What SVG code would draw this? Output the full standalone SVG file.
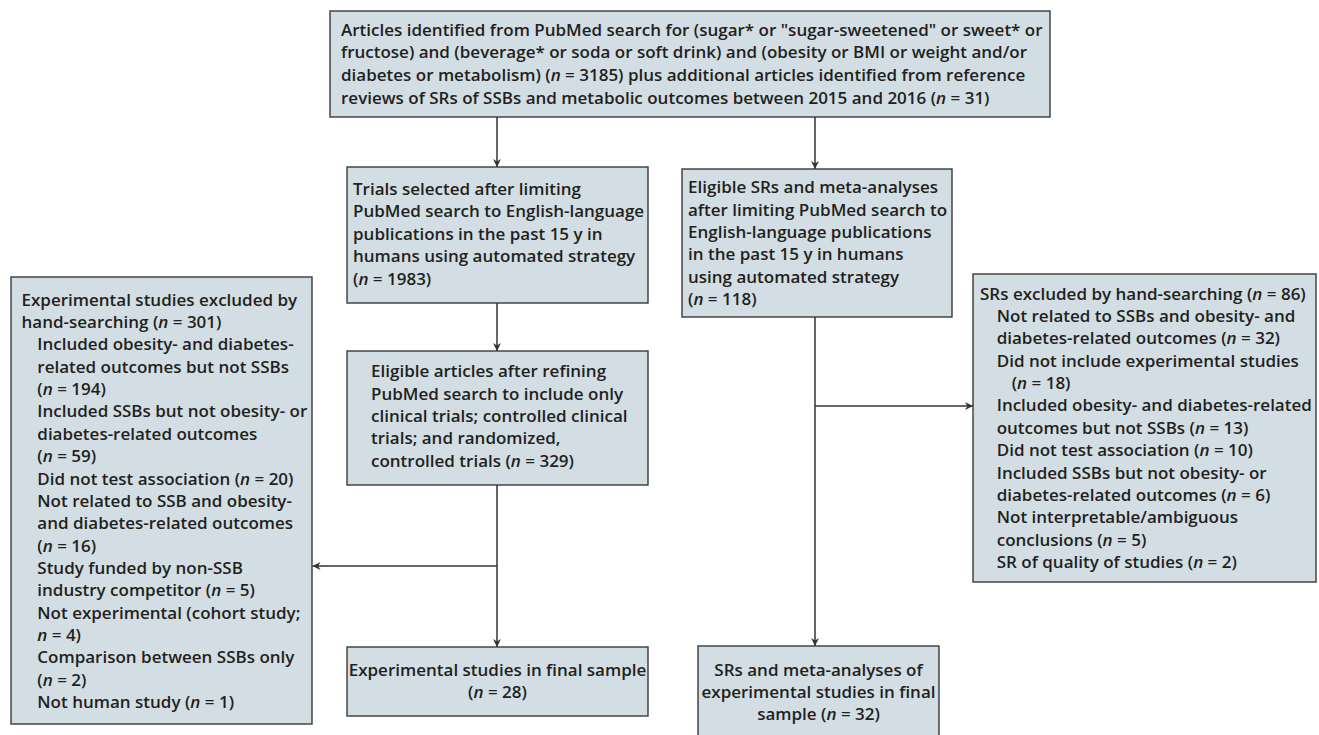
<svg xmlns="http://www.w3.org/2000/svg" width="1319" height="735" viewBox="0 0 1319 735">
<defs>
<style>
.box{fill:#d2dee3;stroke:#3a3a3a;stroke-width:1.4}
.t{font-family:"Open Sans","Noto Sans","Liberation Sans",sans-serif;font-size:17px;font-weight:600;fill:#231f20}
.c{text-anchor:middle}
.i{font-style:italic}
.ln{fill:none;stroke:#333;stroke-width:1.5}
</style>
<marker id="ah" viewBox="0 0 10 10" refX="10" refY="5" markerWidth="8" markerHeight="8" markerUnits="userSpaceOnUse" orient="auto">
<path d="M0,0 L10,5 L0,10 L3,5 z" fill="#333"/>
</marker>
</defs>
<rect width="1319" height="735" fill="#fff"/>

<g id="connectors">
<line class="ln" x1="497" y1="117" x2="497" y2="167" marker-end="url(#ah)"/>
<line class="ln" x1="815" y1="117" x2="815" y2="169" marker-end="url(#ah)"/>
<line class="ln" x1="497" y1="303" x2="497" y2="351" marker-end="url(#ah)"/>
<line class="ln" x1="497" y1="485" x2="497" y2="647" marker-end="url(#ah)"/>
<line class="ln" x1="497" y1="566" x2="312.5" y2="566" marker-end="url(#ah)"/>
<line class="ln" x1="815" y1="317" x2="815" y2="646" marker-end="url(#ah)"/>
<line class="ln" x1="815" y1="406" x2="973" y2="406" marker-end="url(#ah)"/>
</g>

<g id="top">
<rect class="box" x="330" y="11" width="720" height="106"/>
<text class="t" x="341" y="35.5">Articles identified from PubMed search for (sugar* or "sugar-sweetened" or sweet* or</text>
<text class="t" x="341" y="58.2">fructose) and (beverage* or soda or soft drink) and (obesity or BMI or weight and/or</text>
<text class="t" x="341" y="80.9">diabetes or metabolism) (<tspan class="i">n</tspan> = 3185) plus additional articles identified from reference</text>
<text class="t" x="341" y="103.5">reviews of SRs of SSBs and metabolic outcomes between 2015 and 2016 (<tspan class="i">n</tspan> = 31)</text>
</g>

<g id="trials">
<rect class="box" x="347" y="167" width="301" height="136"/>
<text class="t" x="353" y="195">Trials selected after limiting</text>
<text class="t" x="353" y="217.4">PubMed search to English-language</text>
<text class="t" x="353" y="239.7">publications in the past 15 y in</text>
<text class="t" x="353" y="262.1">humans using automated strategy</text>
<text class="t" x="353" y="284.5">(<tspan class="i">n</tspan> = 1983)</text>
</g>

<g id="eligible-articles">
<rect class="box" x="347" y="351" width="301" height="134"/>
<text class="t" x="371" y="377.2">Eligible articles after refining</text>
<text class="t" x="371" y="399.6">PubMed search to include only</text>
<text class="t" x="371" y="422">clinical trials; controlled clinical</text>
<text class="t" x="371" y="444.3">trials; and randomized,</text>
<text class="t" x="371" y="466.7">controlled trials (<tspan class="i">n</tspan> = 329)</text>
</g>

<g id="final-experimental">
<rect class="box" x="347" y="647" width="301" height="69"/>
<text class="t c" x="497.5" y="675.5">Experimental studies in final sample</text>
<text class="t c" x="497.5" y="698">(<tspan class="i">n</tspan> = 28)</text>
</g>

<g id="excluded-experimental">
<rect class="box" x="11" y="277" width="301" height="447"/>
<text class="t" x="21.5" y="305.5">Experimental studies excluded by</text>
<text class="t" x="21.5" y="327.9">hand-searching (<tspan class="i">n</tspan> = 301)</text>
<text class="t" x="37.3" y="350.2">Included obesity- and diabetes-</text>
<text class="t" x="37.3" y="372.6">related outcomes but not SSBs</text>
<text class="t" x="37.3" y="395">(<tspan class="i">n</tspan> = 194)</text>
<text class="t" x="37.3" y="417.4">Included SSBs but not obesity- or</text>
<text class="t" x="37.3" y="439.7">diabetes-related outcomes</text>
<text class="t" x="37.3" y="462.1">(<tspan class="i">n</tspan> = 59)</text>
<text class="t" x="37.3" y="484.5">Did not test association (<tspan class="i">n</tspan> = 20)</text>
<text class="t" x="37.3" y="506.8">Not related to SSB and obesity-</text>
<text class="t" x="37.3" y="529.2">and diabetes-related outcomes</text>
<text class="t" x="37.3" y="551.6">(<tspan class="i">n</tspan> = 16)</text>
<text class="t" x="37.3" y="573.9">Study funded by non-SSB</text>
<text class="t" x="37.3" y="596.3">industry competitor (<tspan class="i">n</tspan> = 5)</text>
<text class="t" x="37.3" y="618.7">Not experimental (cohort study;</text>
<text class="t" x="37.3" y="641.1"><tspan class="i">n</tspan> = 4)</text>
<text class="t" x="37.3" y="663.4">Comparison between SSBs only</text>
<text class="t" x="37.3" y="685.8">(<tspan class="i">n</tspan> = 2)</text>
<text class="t" x="37.3" y="708.2">Not human study (<tspan class="i">n</tspan> = 1)</text>
</g>

<g id="eligible-srs">
<rect class="box" x="682" y="169" width="270" height="148"/>
<text class="t" x="688" y="193.2">Eligible SRs and meta-analyses</text>
<text class="t" x="688" y="215.6">after limiting PubMed search to</text>
<text class="t" x="688" y="238">English-language publications</text>
<text class="t" x="688" y="260.3">in the past 15 y in humans</text>
<text class="t" x="688" y="282.7">using automated strategy</text>
<text class="t" x="688" y="305.1">(<tspan class="i">n</tspan> = 118)</text>
</g>

<g id="excluded-srs">
<rect class="box" x="973" y="274" width="343" height="308"/>
<text class="t" x="980" y="299.5">SRs excluded by hand-searching (<tspan class="i">n</tspan> = 86)</text>
<text class="t" x="996.7" y="321.9">Not related to SSBs and obesity- and</text>
<text class="t" x="996.7" y="344.2">diabetes-related outcomes (<tspan class="i">n</tspan> = 32)</text>
<text class="t" x="996.7" y="366.6">Did not include experimental studies</text>
<text class="t" x="1011.7" y="389">(<tspan class="i">n</tspan> = 18)</text>
<text class="t" x="996.7" y="411.4">Included obesity- and diabetes-related</text>
<text class="t" x="996.7" y="433.7">outcomes but not SSBs (<tspan class="i">n</tspan> = 13)</text>
<text class="t" x="996.7" y="456.1">Did not test association (<tspan class="i">n</tspan> = 10)</text>
<text class="t" x="996.7" y="478.5">Included SSBs but not obesity- or</text>
<text class="t" x="996.7" y="500.8">diabetes-related outcomes (<tspan class="i">n</tspan> = 6)</text>
<text class="t" x="996.7" y="523.2">Not interpretable/ambiguous</text>
<text class="t" x="996.7" y="545.6">conclusions (<tspan class="i">n</tspan> = 5)</text>
<text class="t" x="996.7" y="567.9">SR of quality of studies (<tspan class="i">n</tspan> = 2)</text>
</g>

<g id="final-srs">
<rect class="box" x="698" y="646" width="241" height="94"/>
<text class="t c" x="818.5" y="675.5">SRs and meta-analyses of</text>
<text class="t c" x="818.5" y="697.9">experimental studies in final</text>
<text class="t c" x="818.5" y="720.3">sample (<tspan class="i">n</tspan> = 32)</text>
</g>
</svg>
